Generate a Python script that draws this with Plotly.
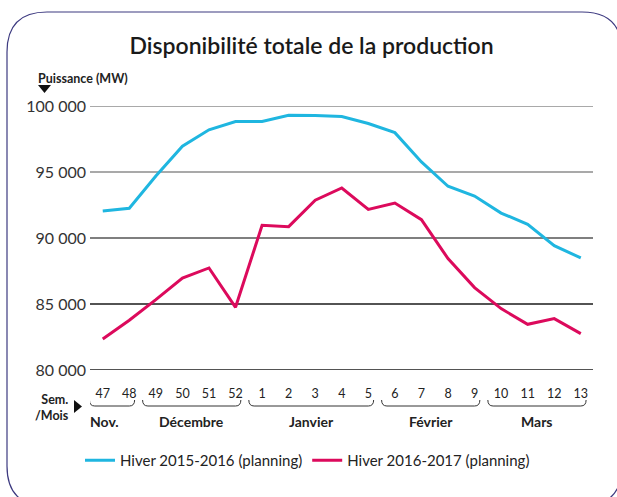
import plotly.graph_objects as go

# Données (MW)
semaines = ["47", "48", "49", "50", "51", "52", "1", "2", "3", "4", "5",
            "6", "7", "8", "9", "10", "11", "12", "13"]
hiver_2015_2016 = [92050, 92250, 94700, 96950, 98200, 98820, 98820, 99300, 99280, 99200,
                   98670, 97980, 95760, 93920, 93180, 91890, 91040, 89420, 88490]
hiver_2016_2017 = [82350, 83770, 85330, 86970, 87730, 84750, 90960, 90860, 92860, 93790,
                   92170, 92650, 91390, 88440, 86240, 84650, 83460, 83890, 82760]

# mois : (libellé, première semaine, dernière semaine)
mois = [("Nov.", "47", "48"), ("Décembre", "49", "52"), ("Janvier", "1", "5"),
        ("Février", "6", "9"), ("Mars", "10", "13")]

y_ticks = [80000, 85000, 90000, 95000, 100000]
y_labels = ["80 000", "85 000", "90 000", "95 000", "100 000"]
grid_colors = ["#1a1a1a", "#1a1a1a", "#555555", "#8c8c8c", "#8c8c8c"]

BLEU = "#1fb6e0"
ROSE = "#dc0a5c"
FONT = "Lato"

W, H = 617, 497
L, R, T, B = 90, 24, 106, 127
pw, ph = W - L - R, H - T - B


def px(x):
    return (x - L) / pw


def py(y):
    return (H - B - y) / ph


idx = list(range(len(semaines)))

fig = go.Figure()
fig.add_trace(go.Scatter(x=idx, y=hiver_2015_2016, mode="lines", name="Hiver 2015-2016 (planning)",
                         line=dict(color=BLEU, width=3)))
fig.add_trace(go.Scatter(x=idx, y=hiver_2016_2017, mode="lines", name="Hiver 2016-2017 (planning)",
                         line=dict(color=ROSE, width=3)))

# lignes horizontales
for v, c in zip(y_ticks, grid_colors):
    fig.add_shape(type="line", xref="paper", yref="y", x0=0, x1=1, y0=v, y1=v,
                  line=dict(color=c, width=1.3), layer="below")

# accolades des mois + libellés
yb = py(406)
yh = py(400)
for k, (nom, s0, s1) in enumerate(mois):
    i0, i1 = semaines.index(s0), semaines.index(s1)
    x0, x1 = i0 - 0.5, i1 + 0.2
    fig.add_shape(type="path", xref="x", yref="paper",
                  path=f"M {x0},{yh} Q {x0},{yb} {x0 + 0.2},{yb} L {x1 - 0.2},{yb} Q {x1},{yb} {x1},{yh}",
                  line=dict(color="#333333", width=1))
    if k == 0:
        xa, anc, dx = -0.45, "left", -3
    else:
        xa, anc, dx = (x0 + x1) / 2, "center", 0
    fig.add_annotation(x=xa, y=py(421), xref="x", yref="paper", text=f"<b>{nom}</b>",
                       showarrow=False, xanchor=anc, yanchor="middle", xshift=dx,
                       font=dict(family=FONT, size=14, color="#222222"))

# Sem. / Mois
fig.add_annotation(x=px(71), y=py(407), xref="paper", yref="paper", text="<b>Sem.<br>/Mois</b>",
                   showarrow=False, align="right", xanchor="right", yanchor="middle",
                   font=dict(family=FONT, size=12.5, color="#222222"))
fig.add_shape(type="path", xref="paper", yref="paper",
              path=f"M {px(74)},{py(400)} L {px(82)},{py(406.5)} L {px(74)},{py(413)} Z",
              fillcolor="#111111", line=dict(width=0))

# Puissance (MW)
fig.add_annotation(x=px(36), y=py(78), xref="paper", yref="paper", text="<b>Puissance (MW)</b>",
                   showarrow=False, xanchor="left", yanchor="middle",
                   font=dict(family=FONT, size=12.5, color="#222222"))
fig.add_shape(type="path", xref="paper", yref="paper",
              path=f"M {px(38)},{py(85)} L {px(51)},{py(85)} L {px(44.5)},{py(93)} Z",
              fillcolor="#111111", line=dict(width=0))

# cadre arrondi
x0, x1, y0, y1, r = 7, 622, 12, 506, 40
cadre = (f"M {px(x0)},{py(y0 + r)} Q {px(x0)},{py(y0)} {px(x0 + r)},{py(y0)} "
         f"L {px(x1 - r)},{py(y0)} Q {px(x1)},{py(y0)} {px(x1)},{py(y0 + r)} "
         f"L {px(x1)},{py(y1 - r)} Q {px(x1)},{py(y1)} {px(x1 - r)},{py(y1)} "
         f"L {px(x0 + r)},{py(y1)} Q {px(x0)},{py(y1)} {px(x0)},{py(y1 - r)} Z")
fig.add_shape(type="path", xref="paper", yref="paper", path=cadre,
              line=dict(color="#3d3a80", width=1.2))

fig.update_layout(
    width=W, height=H,
    margin=dict(l=L, r=R, t=T, b=B),
    paper_bgcolor="white", plot_bgcolor="white",
    title=dict(text="Disponibilité totale de la production", x=0.505, xanchor="center",
               y=1 - 46 / H, yanchor="middle",
               font=dict(family=FONT, size=23, color="#1a1a1a", weight=600)),
    xaxis=dict(range=[-0.48, 18.46], tickvals=idx, ticktext=semaines, showgrid=False,
               zeroline=False, showline=False, ticks="", ticklabelstandoff=14,
               tickfont=dict(family=FONT, size=12.5, color="#222222"), fixedrange=True),
    yaxis=dict(range=[80000, 100000], tickvals=y_ticks, ticktext=y_labels, showgrid=False,
               zeroline=False, showline=False, ticks="", ticklabelstandoff=3,
               tickfont=dict(family=FONT, size=16, color="#333333")),
    showlegend=True,
    legend=dict(orientation="h", x=px(80), y=py(444), xanchor="left", yanchor="top",
                font=dict(family=FONT, size=15, color="#222222"), itemwidth=30,
                bgcolor="rgba(0,0,0,0)"),
)

fig.write_html("out.html", config={"displayModeBar": False},
               post_script="document.body.style.margin='0';")
